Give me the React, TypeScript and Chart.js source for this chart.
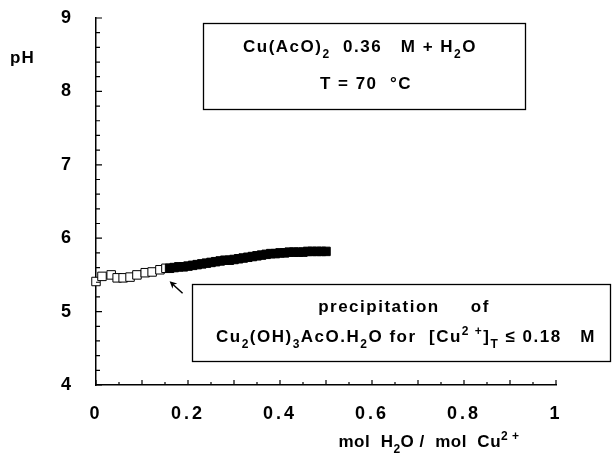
import React, { useEffect, useRef } from 'react';
import { Chart, registerables } from 'chart.js';

Chart.register(...registerables);

// pH of Cu(AcO)2 0.36 M at 70 °C vs added water (mol H2O / mol Cu2+)
// before precipitation (open squares)
const openX = [0, 0.013, 0.033, 0.046, 0.059, 0.074, 0.089, 0.107, 0.122, 0.139, 0.152];
const openPH = [5.41, 5.48, 5.5, 5.46, 5.46, 5.47, 5.5, 5.53, 5.54, 5.57, 5.59];

// during precipitation of Cu2(OH)3AcO.H2O (filled squares)
const filledX = [
  0.16, 0.17, 0.18, 0.19, 0.2, 0.21, 0.22, 0.23, 0.24, 0.25, 0.26, 0.27, 0.28, 0.29, 0.3,
  0.31, 0.32, 0.33, 0.34, 0.35, 0.36, 0.37, 0.38, 0.39, 0.4, 0.41, 0.42, 0.43, 0.44, 0.45,
  0.46, 0.47, 0.48, 0.49, 0.5,
];
const filledPH = [
  5.59, 5.6, 5.61, 5.61, 5.62, 5.63, 5.64, 5.65, 5.66, 5.67, 5.68, 5.69, 5.7, 5.7, 5.71,
  5.72, 5.73, 5.74, 5.75, 5.76, 5.77, 5.78, 5.79, 5.79, 5.8, 5.8, 5.81, 5.81, 5.81, 5.81,
  5.82, 5.82, 5.82, 5.82, 5.82,
];

const xTickLabels = ['0', '0.2', '0.4', '0.6', '0.8', '1'];
const yTickLabels = ['4', '5', '6', '7', '8', '9'];

const FONT = '"Liberation Sans", Arial, Helvetica, sans-serif';

type Seg = { t: string; k?: 'sub' | 'sup' };

function segFont(k: Seg['k'], size: number) {
  const s = k ? Math.round(size * 0.7) : size;
  return `bold ${s}px ${FONT}`;
}

function richWidth(ctx: CanvasRenderingContext2D, segs: Seg[], size: number) {
  let w = 0;
  for (const s of segs) {
    ctx.font = segFont(s.k, size);
    w += ctx.measureText(s.t).width;
  }
  return w;
}

function drawRich(
  ctx: CanvasRenderingContext2D,
  segs: Seg[],
  x: number,
  baseline: number,
  size: number,
  align: 'left' | 'center',
  spacing: number
) {
  ctx.save();
  (ctx as any).letterSpacing = `${spacing}px`;
  ctx.textAlign = 'left';
  ctx.textBaseline = 'alphabetic';
  ctx.fillStyle = '#000';
  let cx = align === 'center' ? x - richWidth(ctx, segs, size) / 2 : x;
  for (const s of segs) {
    ctx.font = segFont(s.k, size);
    const dy = s.k === 'sub' ? size * 0.33 : s.k === 'sup' ? -size * 0.42 : 0;
    ctx.fillText(s.t, cx, baseline + dy);
    cx += ctx.measureText(s.t).width;
  }
  ctx.restore();
}

const line1: Seg[] = [
  { t: 'Cu(AcO)' }, { t: '2', k: 'sub' }, { t: '  0.36   M + H' }, { t: '2', k: 'sub' }, { t: 'O' },
];
const line2: Seg[] = [{ t: 'T = 70  °C' }];
const precip1: Seg[] = [{ t: 'precipitation     of' }];
const precip2: Seg[] = [
  { t: 'Cu' }, { t: '2', k: 'sub' }, { t: '(OH)' }, { t: '3', k: 'sub' }, { t: 'AcO.H' },
  { t: '2', k: 'sub' }, { t: 'O for  [Cu' }, { t: '2 +', k: 'sup' }, { t: ']' }, { t: 'T', k: 'sub' },
  { t: ' ≤ 0.18   M' },
];
const xTitle: Seg[] = [
  { t: 'mol  H' }, { t: '2', k: 'sub' }, { t: 'O /  mol  Cu' }, { t: '2 +', k: 'sup' },
];

const decorations = {
  id: 'decorations',
  beforeDraw(chart: any) {
    (chart.ctx as any).letterSpacing = '3px';
  },
  beforeDatasetsDraw(chart: any) {
    (chart.ctx as any).letterSpacing = '0px';
  },
  afterDraw(chart: any) {
    const ctx: CanvasRenderingContext2D = chart.ctx;
    const xs = chart.scales.x;
    const ys = chart.scales.y;
    ctx.save();
    ctx.strokeStyle = '#000';
    ctx.lineWidth = 1.2;

    // inward tick marks
    ctx.beginPath();
    for (let i = 0; i <= 20; i++) {
      const px = xs.getPixelForValue(i * 0.05);
      const len = i % 2 === 0 ? 5 : 3;
      ctx.moveTo(px, ys.bottom);
      ctx.lineTo(px, ys.bottom - len);
    }
    for (let i = 0; i <= 25; i++) {
      const py = ys.getPixelForValue(4 + i * 0.2);
      const len = i % 5 === 0 ? 6 : 4;
      ctx.moveTo(xs.left, py);
      ctx.lineTo(xs.left + len, py);
    }
    ctx.stroke();

    // y axis name
    drawRich(ctx, [{ t: 'pH' }], 10, 63, 17, 'left', 1);

    // x axis name
    drawRich(ctx, xTitle, 429, 447, 17, 'center', 0.5);

    // conditions box
    ctx.lineWidth = 1.3;
    ctx.strokeRect(203.5, 23.5, 322, 86);
    drawRich(ctx, line1, 360, 52, 17, 'center', 1.5);
    drawRich(ctx, line2, 366, 89, 17, 'center', 1.5);

    // precipitation box
    ctx.strokeRect(192.5, 284.5, 418, 77);
    drawRich(ctx, precip1, 404, 312, 17, 'center', 1.5);
    drawRich(ctx, precip2, 406, 342, 17, 'center', 1.5);

    // arrow towards the start of precipitation
    const tipX = xs.getPixelForValue(filledX[0]);
    const tipY = ys.getPixelForValue(filledPH[0]) + 13;
    const tailX = tipX + 13;
    const tailY = tipY + 12;
    ctx.lineWidth = 1.5;
    ctx.beginPath();
    ctx.moveTo(tailX, tailY);
    ctx.lineTo(tipX + 2, tipY + 2);
    ctx.stroke();
    const ang = Math.atan2(tipY - tailY, tipX - tailX);
    ctx.beginPath();
    ctx.moveTo(tipX, tipY);
    ctx.lineTo(tipX - 8 * Math.cos(ang - 0.45), tipY - 8 * Math.sin(ang - 0.45));
    ctx.lineTo(tipX - 5 * Math.cos(ang), tipY - 5 * Math.sin(ang));
    ctx.lineTo(tipX - 8 * Math.cos(ang + 0.45), tipY - 8 * Math.sin(ang + 0.45));
    ctx.closePath();
    ctx.fillStyle = '#000';
    ctx.fill();

    ctx.restore();
  },
};

export default function App() {
  const ref = useRef<HTMLCanvasElement>(null);

  useEffect(() => {
    if (!ref.current) return;
    const chart = new Chart(ref.current, {
      type: 'scatter',
      data: {
        datasets: [
          {
            label: 'precipitation',
            data: filledX.map((x, i) => ({ x, y: filledPH[i] })),
            pointStyle: 'rect',
            pointRadius: 6,
            backgroundColor: '#000',
            borderColor: '#000',
            borderWidth: 1,
            clip: false,
          },
          {
            label: 'solution',
            data: openX.map((x, i) => ({ x, y: openPH[i] })),
            pointStyle: 'rect',
            pointRadius: 6,
            backgroundColor: '#fff',
            borderColor: '#000',
            borderWidth: 1,
            clip: false,
          },
        ],
      },
      options: {
        animation: false,
        responsive: false,
        events: [],
        layout: { padding: { left: 0, top: 18, right: 57, bottom: 0 } },
        plugins: { legend: { display: false }, tooltip: { enabled: false } },
        scales: {
          x: {
            type: 'linear',
            min: 0,
            max: 1,
            grid: { display: false, drawTicks: false },
            border: { display: true, color: '#000', width: 1.5 },
            ticks: {
              stepSize: 0.2,
              padding: 18,
              color: '#000',
              font: { family: FONT, size: 18, weight: 'bold' },
              maxRotation: 0,
              callback: (_v: any, i: number) => xTickLabels[i],
            },
            afterFit: (s: any) => {
              s.height = 80;
              s.paddingLeft = 0;
              s.paddingRight = 0;
            },
          },
          y: {
            type: 'linear',
            min: 4,
            max: 9,
            grid: { display: false, drawTicks: false },
            border: { display: true, color: '#000', width: 1.5 },
            ticks: {
              stepSize: 1,
              padding: 22,
              color: '#000',
              font: { family: FONT, size: 18, weight: 'bold' },
              callback: (_v: any, i: number) => yTickLabels[i],
            },
            afterFit: (s: any) => {
              s.width = 96;
              s.paddingTop = 0;
              s.paddingBottom = 0;
            },
          },
        },
      },
      plugins: [decorations],
    });
    return () => chart.destroy();
  }, []);

  return (
    <div style={{ position: 'absolute', left: 0, top: 0, width: 613, height: 465, background: '#fff' }}>
      <canvas ref={ref} width={613} height={465} />
    </div>
  );
}
